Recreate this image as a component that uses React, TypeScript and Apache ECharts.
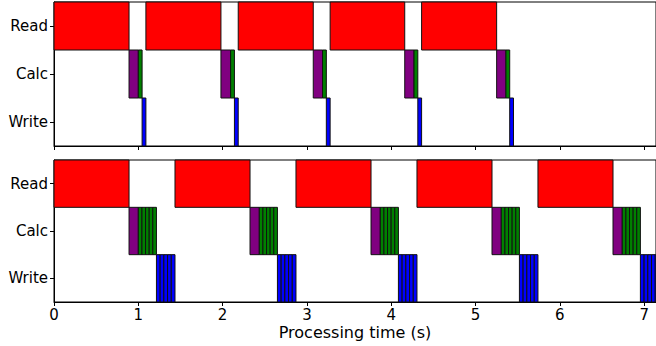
import React, { useEffect, useRef } from "react";
import * as echarts from "echarts";

// Rows (top to bottom)
const rows = ["Read", "Calc", "Write"];
const xTicks = [0, 1, 2, 3, 4, 5, 6, 7];
const xMax = 7.14;

// ---- Top panel: [start, end] in seconds ----
const topRead = [[0, 0.89], [1.09, 1.98], [2.185, 3.075], [3.275, 4.16], [4.36, 5.25]];
const topCalcPre = [[0.89, 1.0], [1.98, 2.095], [3.075, 3.185], [4.16, 4.27], [5.25, 5.36]];
const topCalcMain = [[1.0, 1.045], [2.095, 2.14], [3.185, 3.23], [4.27, 4.315], [5.36, 5.405]];
const topWrite = [[1.045, 1.09], [2.14, 2.185], [3.23, 3.275], [4.315, 4.36], [5.405, 5.45]];

// ---- Bottom panel ----
const bottomRead = [[0, 0.89], [1.435, 2.325], [2.87, 3.76], [4.305, 5.195], [5.74, 6.63]];
const bottomCalcPre = [[0.89, 1.0], [2.325, 2.435], [3.76, 3.87], [5.195, 5.305], [6.63, 6.74]];
// chunk edges for each cycle (5 chunks each)
const bottomCalcChunks = [
  [1.0, 1.043, 1.086, 1.129, 1.172, 1.215],
  [2.435, 2.478, 2.521, 2.564, 2.607, 2.65],
  [3.87, 3.913, 3.956, 3.999, 4.042, 4.085],
  [5.305, 5.348, 5.391, 5.434, 5.477, 5.52],
  [6.74, 6.783, 6.826, 6.869, 6.912, 6.955],
];
const bottomWriteChunks = [
  [1.215, 1.259, 1.303, 1.347, 1.391, 1.435],
  [2.65, 2.694, 2.738, 2.782, 2.826, 2.87],
  [4.085, 4.129, 4.173, 4.217, 4.261, 4.305],
  [5.52, 5.564, 5.608, 5.652, 5.696, 5.74],
  [6.955, 6.999, 7.043, 7.087, 7.131, 7.175],
];

const COLORS = { read: "#ff0000", pre: "#800080", calc: "#008000", write: "#0000ff" };
const FONT = "DejaVu Sans";

function spans(list: number[][], row: number) {
  return list.map((d) => [d[0], d[1], row]);
}
function chunks(list: number[][], row: number) {
  const out: number[][] = [];
  list.forEach((edges) => {
    for (let i = 0; i < edges.length - 1; i++) out.push([edges[i], edges[i + 1], row]);
  });
  return out;
}

function makeSeries(data: number[][], color: string, gi: number) {
  return {
    type: "custom",
    xAxisIndex: gi,
    yAxisIndex: gi,
    encode: { x: [0, 1], y: 2 },
    data,
    renderItem: (params: any, api: any) => {
      const s = api.value(0);
      const e = api.value(1);
      const r = api.value(2);
      const p0 = api.coord([s, r]);
      const p1 = api.coord([e, r]);
      const h = api.size([0, 1])[1];
      const cs = params.coordSys;
      const rect = echarts.graphic.clipRectByRect(
        { x: p0[0], y: p0[1] - h / 2, width: p1[0] - p0[0], height: h },
        { x: cs.x, y: cs.y, width: cs.width + 20, height: cs.height }
      );
      if (!rect) return null;
      return {
        type: "rect",
        shape: rect,
        style: { fill: color, stroke: "#111", lineWidth: 1 },
      };
    },
  };
}

export default function App() {
  const ref = useRef<HTMLDivElement>(null);
  useEffect(() => {
    if (!ref.current) return;
    const chart = echarts.init(ref.current, null, { renderer: "svg" });
    const xAxisBase = (gi: number, showLabels: boolean) => ({
      type: "value",
      gridIndex: gi,
      min: 0,
      max: xMax,
      axisLine: { show: true, lineStyle: { color: "#000", width: 1 } },
      axisTick: {
        show: true,
        inside: false,
        length: 4,
        customValues: xTicks,
        lineStyle: { color: "#000" },
      },
      axisLabel: {
        show: showLabels,
        customValues: xTicks,
        color: "#000",
        fontSize: 15,
        lineHeight: 15,
        fontFamily: FONT,
        margin: 5,
      },
      splitLine: { show: false },
      name: showLabels ? "Processing time (s)" : "",
      nameLocation: "middle",
      nameGap: 22,
      nameTextStyle: { color: "#000", fontSize: 16, lineHeight: 16, fontFamily: FONT },
    });
    const yAxisBase = (gi: number) => ({
      type: "category",
      gridIndex: gi,
      data: rows,
      inverse: true,
      axisLine: { show: true, lineStyle: { color: "#000", width: 1 } },
      axisTick: { show: true, alignWithLabel: true, length: 4, lineStyle: { color: "#000" } },
      axisLabel: { color: "#000", fontSize: 15, fontFamily: FONT, margin: 6 },
      splitLine: { show: false },
    });
    chart.setOption({
      animation: false,
      backgroundColor: "#fff",
      grid: [
        { left: 54, right: 0, top: 2, height: 144, show: true, borderColor: "#000", borderWidth: 1, backgroundColor: "transparent" },
        { left: 54, right: 0, top: 160, height: 142, show: true, borderColor: "#000", borderWidth: 1, backgroundColor: "transparent" },
      ],
      xAxis: [xAxisBase(0, false), xAxisBase(1, true)],
      yAxis: [yAxisBase(0), yAxisBase(1)],
      series: [
        makeSeries(spans(topRead, 0), COLORS.read, 0),
        makeSeries(spans(topCalcPre, 1), COLORS.pre, 0),
        makeSeries(spans(topCalcMain, 1), COLORS.calc, 0),
        makeSeries(spans(topWrite, 2), COLORS.write, 0),
        makeSeries(spans(bottomRead, 0), COLORS.read, 1),
        makeSeries(spans(bottomCalcPre, 1), COLORS.pre, 1),
        makeSeries(chunks(bottomCalcChunks, 1), COLORS.calc, 1),
        makeSeries(chunks(bottomWriteChunks, 2), COLORS.write, 1),
      ],
    });
    return () => chart.dispose();
  }, []);
  return (
    <div
      ref={ref}
      style={{ position: "fixed", left: 0, top: 0, width: 656, height: 346, background: "#fff" }}
    />
  );
}
